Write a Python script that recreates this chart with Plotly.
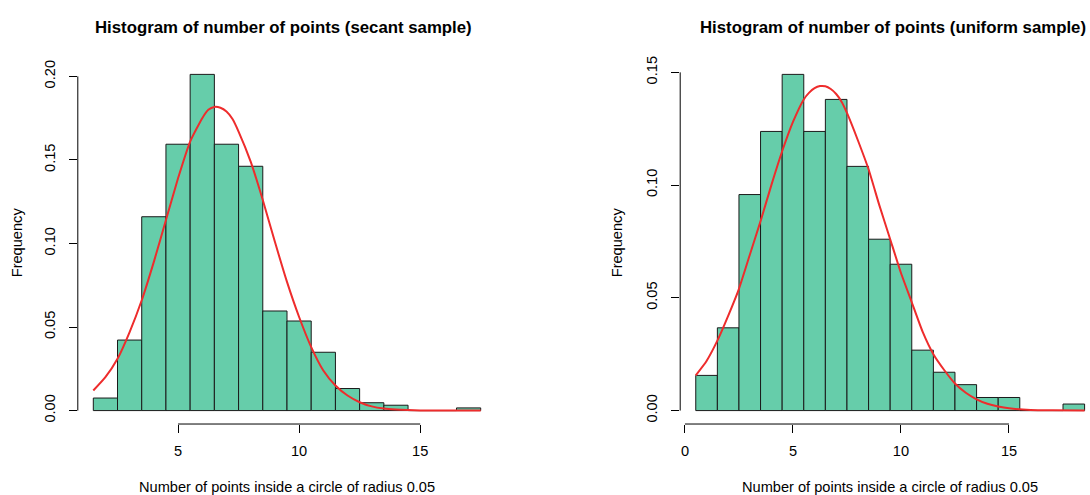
import plotly.graph_objects as go

W, H = 1090, 495

# ---- data ----
# secant sample: bins centred on integers (width 1)
secant_bins = [2, 3, 4, 5, 6, 7, 8, 9, 10, 11, 12, 13, 14, 15, 16, 17]
secant_freq = [0.0075, 0.0422, 0.1160, 0.1594, 0.2012, 0.1594, 0.1462, 0.0596,
               0.0536, 0.0349, 0.0132, 0.0047, 0.0032, 0.0, 0.0, 0.0016]
secant_curve_x = [1.5, 2.0, 2.5, 3.0, 3.5, 4.0, 4.5, 5.0, 5.5, 6.0, 6.25, 6.5, 6.75, 7.0,
                  7.25, 7.5, 8.0, 8.5, 9.0, 9.5, 10.0, 10.5, 11.0, 11.5, 12.0, 12.5,
                  13.0, 13.5, 14.0, 14.5, 15.0, 16.0, 17.5]
secant_curve_y = [0.012, 0.020, 0.031, 0.047, 0.066, 0.089, 0.114, 0.139, 0.161, 0.175,
                  0.180, 0.1817, 0.1812, 0.179, 0.1745, 0.167, 0.149, 0.126, 0.101, 0.077,
                  0.056, 0.038, 0.024, 0.015, 0.009, 0.005, 0.0025, 0.0012, 0.0006,
                  0.0003, 0.0001, 0.0, 0.0]

# uniform sample
uniform_bins = [1, 2, 3, 4, 5, 6, 7, 8, 9, 10, 11, 12, 13, 14, 15, 16, 17, 18]
uniform_freq = [0.0156, 0.0367, 0.0958, 0.1238, 0.1491, 0.1238, 0.1380, 0.1083, 0.0760,
                0.0649, 0.0268, 0.0170, 0.0115, 0.0058, 0.0058, 0.0, 0.0, 0.0029]
uniform_curve_x = [0.5, 1.0, 1.5, 2.0, 2.5, 3.0, 3.5, 4.0, 4.5, 5.0, 5.5, 5.75, 6.0, 6.25,
                   6.5, 6.75, 7.0, 7.25, 7.5, 8.0, 8.5, 9.0, 9.5, 10.0, 10.5, 11.0, 11.5,
                   12.0, 12.5, 13.0, 13.5, 14.0, 14.5, 15.0, 16.0, 17.0, 18.5]
uniform_curve_y = [0.0156, 0.022, 0.031, 0.042, 0.054, 0.069, 0.084, 0.100, 0.115, 0.128,
                   0.138, 0.1410, 0.1430, 0.1439, 0.1438, 0.1426, 0.1404, 0.1370, 0.132,
                   0.120, 0.107, 0.091, 0.076, 0.061, 0.048, 0.035, 0.025, 0.018, 0.012,
                   0.0079, 0.0050, 0.0030, 0.0018, 0.0010, 0.0003, 0.0001, 0.0]

secant_xticks = [5, 10, 15]
secant_yticks = [0.00, 0.05, 0.10, 0.15, 0.20]
uniform_xticks = [0, 5, 10, 15]
uniform_yticks = [0.00, 0.05, 0.10, 0.15]

titles = ["Histogram of number of points (secant sample)",
          "Histogram of number of points (uniform sample)"]
xlabel = "Number of points inside a circle of radius 0.05"
ylabel = "Frequency"

# ---- styling ----
FONT = "Liberation Sans, Arial, Helvetica, sans-serif"
BAR = "#66CDAA"
EDGE = "#1a1a1a"
RED = "#EE2C2C"
FS = 14.6
FS_TITLE = 16.8


def px(x):
    return x / W


def py(y):
    return 1 - y / H


fig = go.Figure()

fig.add_trace(go.Bar(x=secant_bins, y=secant_freq, width=1,
                     marker=dict(color=BAR, line=dict(color=EDGE, width=1)),
                     xaxis="x", yaxis="y", hoverinfo="skip"))
fig.add_trace(go.Scatter(x=secant_curve_x, y=secant_curve_y, mode="lines",
                         line=dict(color=RED, width=2, shape="spline", smoothing=0.5),
                         xaxis="x", yaxis="y", hoverinfo="skip"))
fig.add_trace(go.Bar(x=uniform_bins, y=uniform_freq, width=1,
                     marker=dict(color=BAR, line=dict(color=EDGE, width=1)),
                     xaxis="x2", yaxis="y2", hoverinfo="skip"))
fig.add_trace(go.Scatter(x=uniform_curve_x, y=uniform_curve_y, mode="lines",
                         line=dict(color=RED, width=2, shape="spline", smoothing=0.5),
                         xaxis="x2", yaxis="y2", hoverinfo="skip"))

y_dom = [py(423.3), py(56.5)]


def yrange(vals):
    m = max(vals)
    return [-0.04 * m, 1.04 * m]


def xrange(bins):
    lo, hi = min(bins) - 0.5, max(bins) + 0.5
    d = 0.04 * (hi - lo)
    return [lo - d, hi + d]


tickfont = dict(family=FONT, size=FS, color="black")
common_x = dict(showgrid=False, zeroline=False, showline=False, ticks="outside",
                ticklen=8, tickwidth=1, tickcolor="black", tickfont=tickfont,
                ticklabelstandoff=5, fixedrange=True)
common_y = dict(showgrid=False, zeroline=False, showline=False, ticks="outside",
                ticklen=8, tickwidth=1, tickcolor="black", tickfont=tickfont,
                tickangle=-90, ticklabelstandoff=8, fixedrange=True)

fig.update_layout(
    width=W, height=H,
    margin=dict(l=0, r=0, t=0, b=0),
    paper_bgcolor="white", plot_bgcolor="white",
    showlegend=False, bargap=0,
    xaxis=dict(domain=[px(77.8), px(496.2)], range=xrange(secant_bins),
               tickvals=secant_xticks, ticktext=[str(v) for v in secant_xticks],
               anchor="y", **common_x),
    yaxis=dict(domain=y_dom, range=yrange(secant_freq),
               tickvals=secant_yticks, ticktext=[f"{v:.2f}" for v in secant_yticks],
               anchor="x", **common_y),
    xaxis2=dict(domain=[px(680.2), 1.0], range=[-0.22, 18.75],
                tickvals=uniform_xticks, ticktext=[str(v) for v in uniform_xticks],
                anchor="y2", **common_x),
    yaxis2=dict(domain=y_dom, range=yrange(uniform_freq),
                tickvals=uniform_yticks, ticktext=[f"{v:.2f}" for v in uniform_yticks],
                anchor="x2", **common_y),
)

# R-style axis lines spanning only the tick range
shapes = []
for xa, ya, xt, yt in [("x", "y", secant_xticks, secant_yticks),
                       ("x2", "y2", uniform_xticks, uniform_yticks)]:
    shapes.append(dict(type="line", xref=xa, yref=f"{ya} domain",
                       x0=xt[0], x1=xt[-1], y0=0, y1=0,
                       line=dict(color="black", width=1)))
    shapes.append(dict(type="line", xref=f"{xa} domain", yref=ya,
                       x0=0, x1=0, y0=yt[0], y1=yt[-1],
                       line=dict(color="black", width=1)))
fig.update_layout(shapes=shapes)

ann = []
for cx, t in [(283.0, titles[0]), (893.0, titles[1])]:
    ann.append(dict(text=f"<b>{t}</b>", x=px(cx), y=py(23), xref="paper", yref="paper",
                    xanchor="center", yanchor="middle", showarrow=False,
                    font=dict(family=FONT, size=FS_TITLE, color="black")))
for cx in [286.7, 890.0]:
    ann.append(dict(text=xlabel, x=px(cx), y=py(487), xref="paper", yref="paper",
                    xanchor="center", yanchor="middle", showarrow=False,
                    font=dict(family=FONT, size=FS, color="black")))
for cx in [16.7, 616.7]:
    ann.append(dict(text=ylabel, x=px(cx), y=py(240), xref="paper", yref="paper",
                    xanchor="center", yanchor="middle", showarrow=False, textangle=-90,
                    font=dict(family=FONT, size=FS, color="black")))
fig.update_layout(annotations=ann)

fig.write_html("out.html", config={"displayModeBar": False, "staticPlot": True})
